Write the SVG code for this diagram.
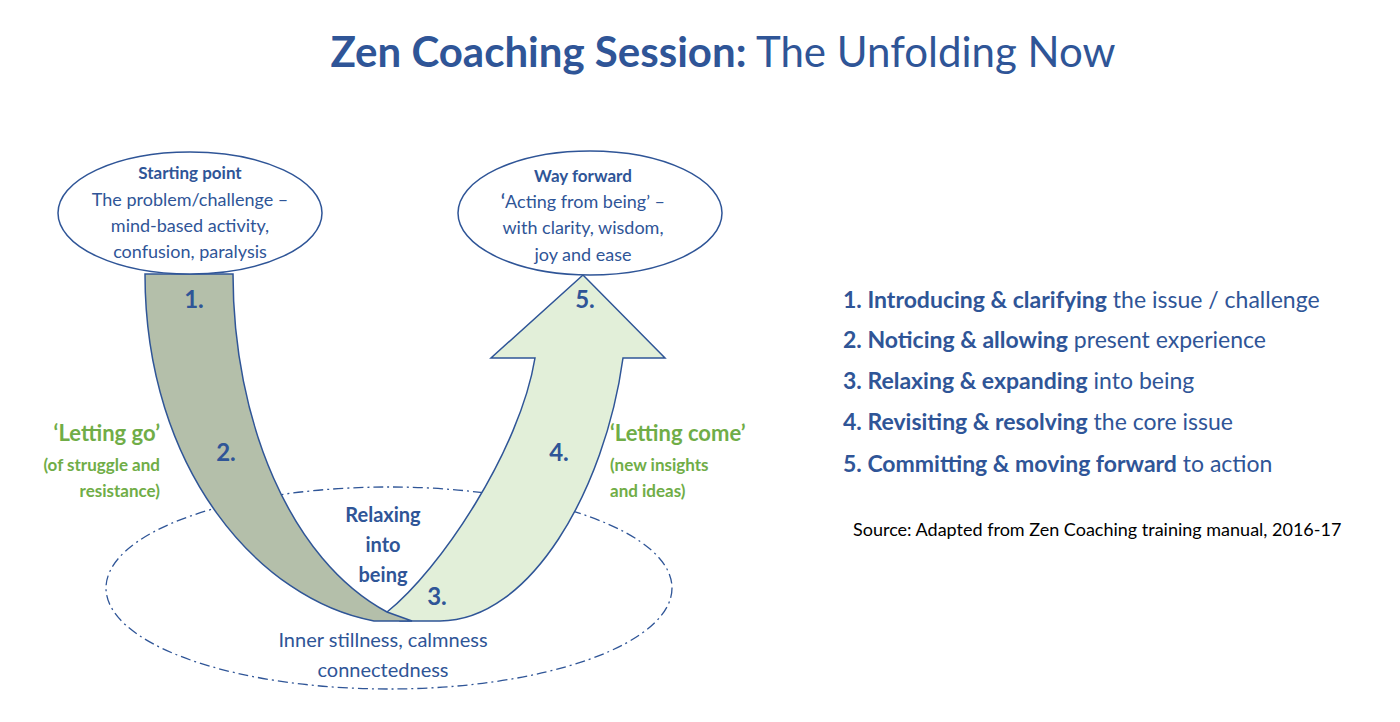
<svg xmlns="http://www.w3.org/2000/svg" width="1400" height="722" viewBox="0 0 1400 722">
<style>
text{font-family:Lato,"Open Sans",sans-serif;fill:#2f5597}
.b{font-weight:bold}
.g{fill:#70ad47;font-weight:bold}
.m{text-anchor:middle}
.e{fill:#fff;stroke:#2f5597;stroke-width:1.5}
.n{font-size:24px;font-weight:bold;text-anchor:middle}
</style>
<rect width="1400" height="722" fill="#fff"/>
<text x="723" y="67" class="m" font-size="42"><tspan class="b">Zen Coaching Session:</tspan> The Unfolding Now</text>
<g id="connectors">
<ellipse cx="389" cy="588" rx="283" ry="101" fill="none" stroke="#2f5597" stroke-width="1.3" stroke-dasharray="10,4,2,4"/>
<path d="M387,612 C440,570 520,450 535,358 L491,358 L583,275 L665,358 L623,358 C605,490 530,621 440,621 L400,621 Z" fill="#e2efd9" stroke="#2f5597" stroke-width="1.5"/>
<path d="M145,274 L233,274 C233,420 290,560 387,612 L412,621 L374,621 C260,600 145,470 145,274 Z" fill="#b4bfaa" stroke="#2f5597" stroke-width="1.5"/>
</g>
<g id="start">
<ellipse class="e" cx="190" cy="213" rx="132" ry="61"/>
<text x="190" y="179" class="m b" font-size="17">Starting point</text>
<text x="190" y="206" class="m" font-size="18">The problem/challenge –</text>
<text x="190" y="232" class="m" font-size="18">mind-based activity,</text>
<text x="190" y="258" class="m" font-size="18">confusion, paralysis</text>
</g>
<g id="forward">
<ellipse class="e" cx="590" cy="213" rx="132" ry="62"/>
<text x="583" y="182" class="m b" font-size="17">Way forward</text>
<text x="583" y="208" class="m" font-size="18"><tspan class="b">‘</tspan>Acting from being’ –</text>
<text x="583" y="234" class="m" font-size="18">with clarity, wisdom,</text>
<text x="583" y="261" class="m" font-size="18">joy and ease</text>
</g>
<g id="numbers">
<text x="194" y="308" class="n">1.</text>
<text x="226" y="461" class="n">2.</text>
<text x="437" y="605" class="n">3.</text>
<text x="559" y="461" class="n">4.</text>
<text x="585" y="308" class="n">5.</text>
</g>
<g id="letgo">
<text x="160" y="441" class="g" font-size="22" text-anchor="end">‘Letting go’</text>
<text x="160" y="471" class="g" font-size="17" text-anchor="end">(of struggle and</text>
<text x="160" y="497" class="g" font-size="17" text-anchor="end">resistance)</text>
</g>
<g id="letcome">
<text x="610" y="441" class="g" font-size="22">‘Letting come’</text>
<text x="610" y="471" class="g" font-size="17">(new insights</text>
<text x="610" y="497" class="g" font-size="17">and ideas)</text>
</g>
<g id="relax">
<text x="383" y="522" class="m b" font-size="20">Relaxing</text>
<text x="383" y="552" class="m b" font-size="20">into</text>
<text x="383" y="582" class="m b" font-size="20">being</text>
</g>
<g id="inner">
<text x="383" y="647" class="m" font-size="20">Inner stillness, calmness</text>
<text x="383" y="677" class="m" font-size="20">connectedness</text>
</g>
<g id="list" font-size="23">
<text x="843" y="308"><tspan class="b">1.  Introducing &amp; clarifying</tspan> the issue / challenge</text>
<text x="843" y="348"><tspan class="b">2.  Noticing &amp; allowing</tspan> present experience</text>
<text x="843" y="389"><tspan class="b">3.  Relaxing &amp; expanding</tspan> into being</text>
<text x="843" y="430"><tspan class="b">4.  Revisiting &amp; resolving</tspan> the core issue</text>
<text x="843" y="472"><tspan class="b">5.  Committing &amp; moving forward</tspan> to action</text>
</g>
<text x="853" y="536" font-size="18" style="fill:#000">Source: Adapted from Zen Coaching training manual, 2016-17</text>
</svg>
